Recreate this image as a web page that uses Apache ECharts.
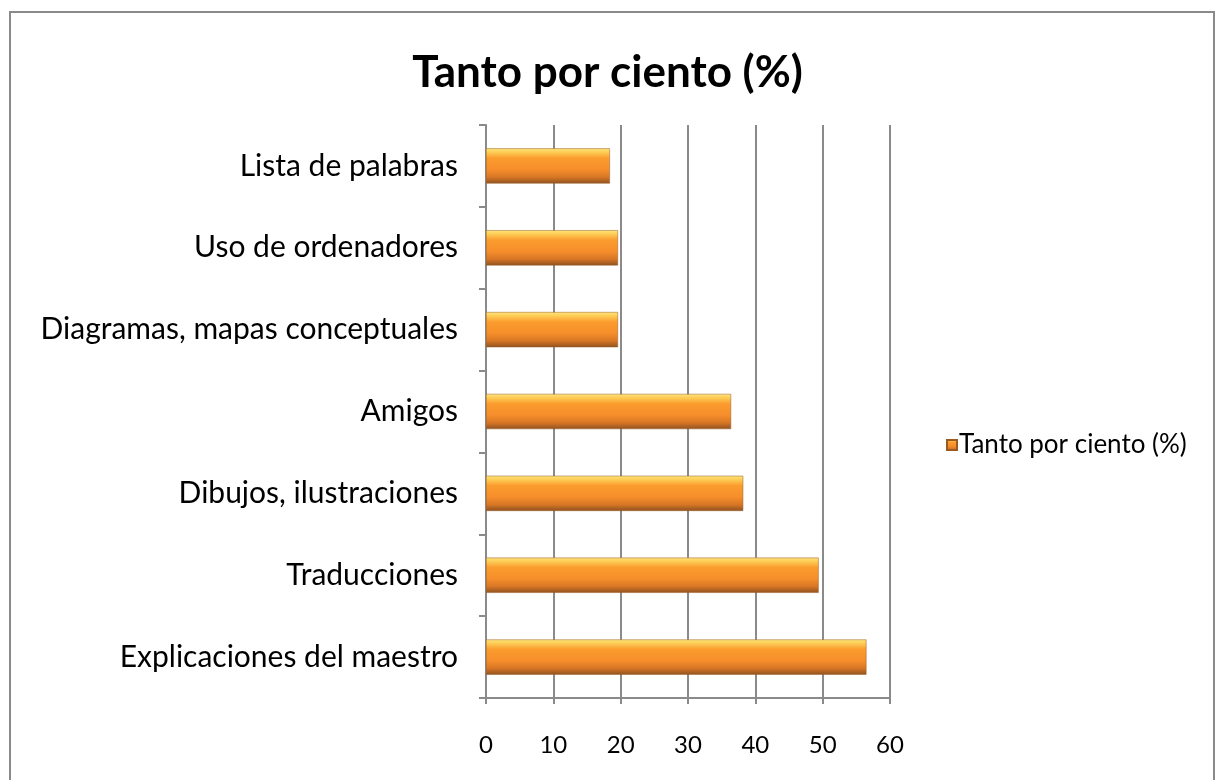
<!DOCTYPE html>
<html>
<head>
<meta charset="utf-8">
<script src="https://cdn.jsdelivr.net/npm/echarts@6/dist/echarts.min.js"></script>
<style>
html,body{margin:0;padding:0;background:#fff;}
#chart{width:1215px;height:780px;}
</style>
</head>
<body>
<div id="chart"></div>
<script>
const titleText = 'Tanto por ciento (%)';
const seriesName = 'Tanto por ciento (%)';
const categories = [
  'Explicaciones del maestro',
  'Traducciones',
  'Dibujos, ilustraciones',
  'Amigos',
  'Diagramas, mapas conceptuales',
  'Uso de ordenadores',
  'Lista de palabras'
];
const values = [56.5, 49.4, 38.2, 36.4, 19.6, 19.6, 18.4];
const xTicks = [0, 10, 20, 30, 40, 50, 60];

const FONT = 'Lato, "Open Sans", sans-serif';
const barGradient = new echarts.graphic.LinearGradient(0, 0, 0, 1, [
  {offset: 0, color: '#FEE57C'},
  {offset: 0.1, color: '#FDCF58'},
  {offset: 0.28, color: '#FB9C2E'},
  {offset: 0.6, color: '#F68E2B'},
  {offset: 0.82, color: '#D77625'},
  {offset: 1, color: '#8F5220'}
]);

const chart = echarts.init(document.getElementById('chart'));
chart.setOption({
  backgroundColor: '#fff',
  animation: false,
  graphic: [{
    type: 'rect',
    shape: {x: 10, y: 12, width: 1204, height: 790},
    style: {fill: 'none', stroke: '#8a8a8a', lineWidth: 2},
    silent: true,
    z: -1
  }],
  title: {
    text: titleText,
    left: 'center',
    top: 46,
    textStyle: {fontFamily: FONT, fontSize: 44, fontWeight: 'bold', color: '#000'}
  },
  legend: {
    left: 941,
    top: 427,
    itemWidth: 10,
    itemHeight: 10,
    itemGap: 4,
    icon: 'rect',
    textStyle: {fontFamily: FONT, fontSize: 26, color: '#000', padding: [0,0,0,-3]},
    data: [seriesName]
  },
  grid: {left: 486, right: 325, top: 125, bottom: 82, containLabel: false},
  xAxis: {
    type: 'value',
    min: 0, max: 60, interval: 10,
    axisLine: {show: true, lineStyle: {color: '#8a8a8a', width: 2}},
    axisTick: {show: true, length: 6, lineStyle: {color: '#8a8a8a', width: 2}},
    axisLabel: {
      fontFamily: FONT, fontSize: 24, color: '#000', margin: 35,
      formatter: v => xTicks.includes(v) ? String(v) : ''
    },
    splitLine: {show: true, lineStyle: {color: '#8a8a8a', width: 2}}
  },
  yAxis: {
    type: 'category',
    data: categories,
    axisLine: {show: true, lineStyle: {color: '#8a8a8a', width: 2}},
    axisTick: {show: true, length: 7, lineStyle: {color: '#8a8a8a', width: 2}},
    axisLabel: {fontFamily: FONT, fontSize: 30, color: '#000', margin: 28}
  },
  series: [{
    name: seriesName,
    type: 'bar',
    data: values,
    barWidth: '43%',
    itemStyle: {color: barGradient, borderColor: '#9a5a22', borderWidth: 0.5}
  }]
});
</script>
</body>
</html>
